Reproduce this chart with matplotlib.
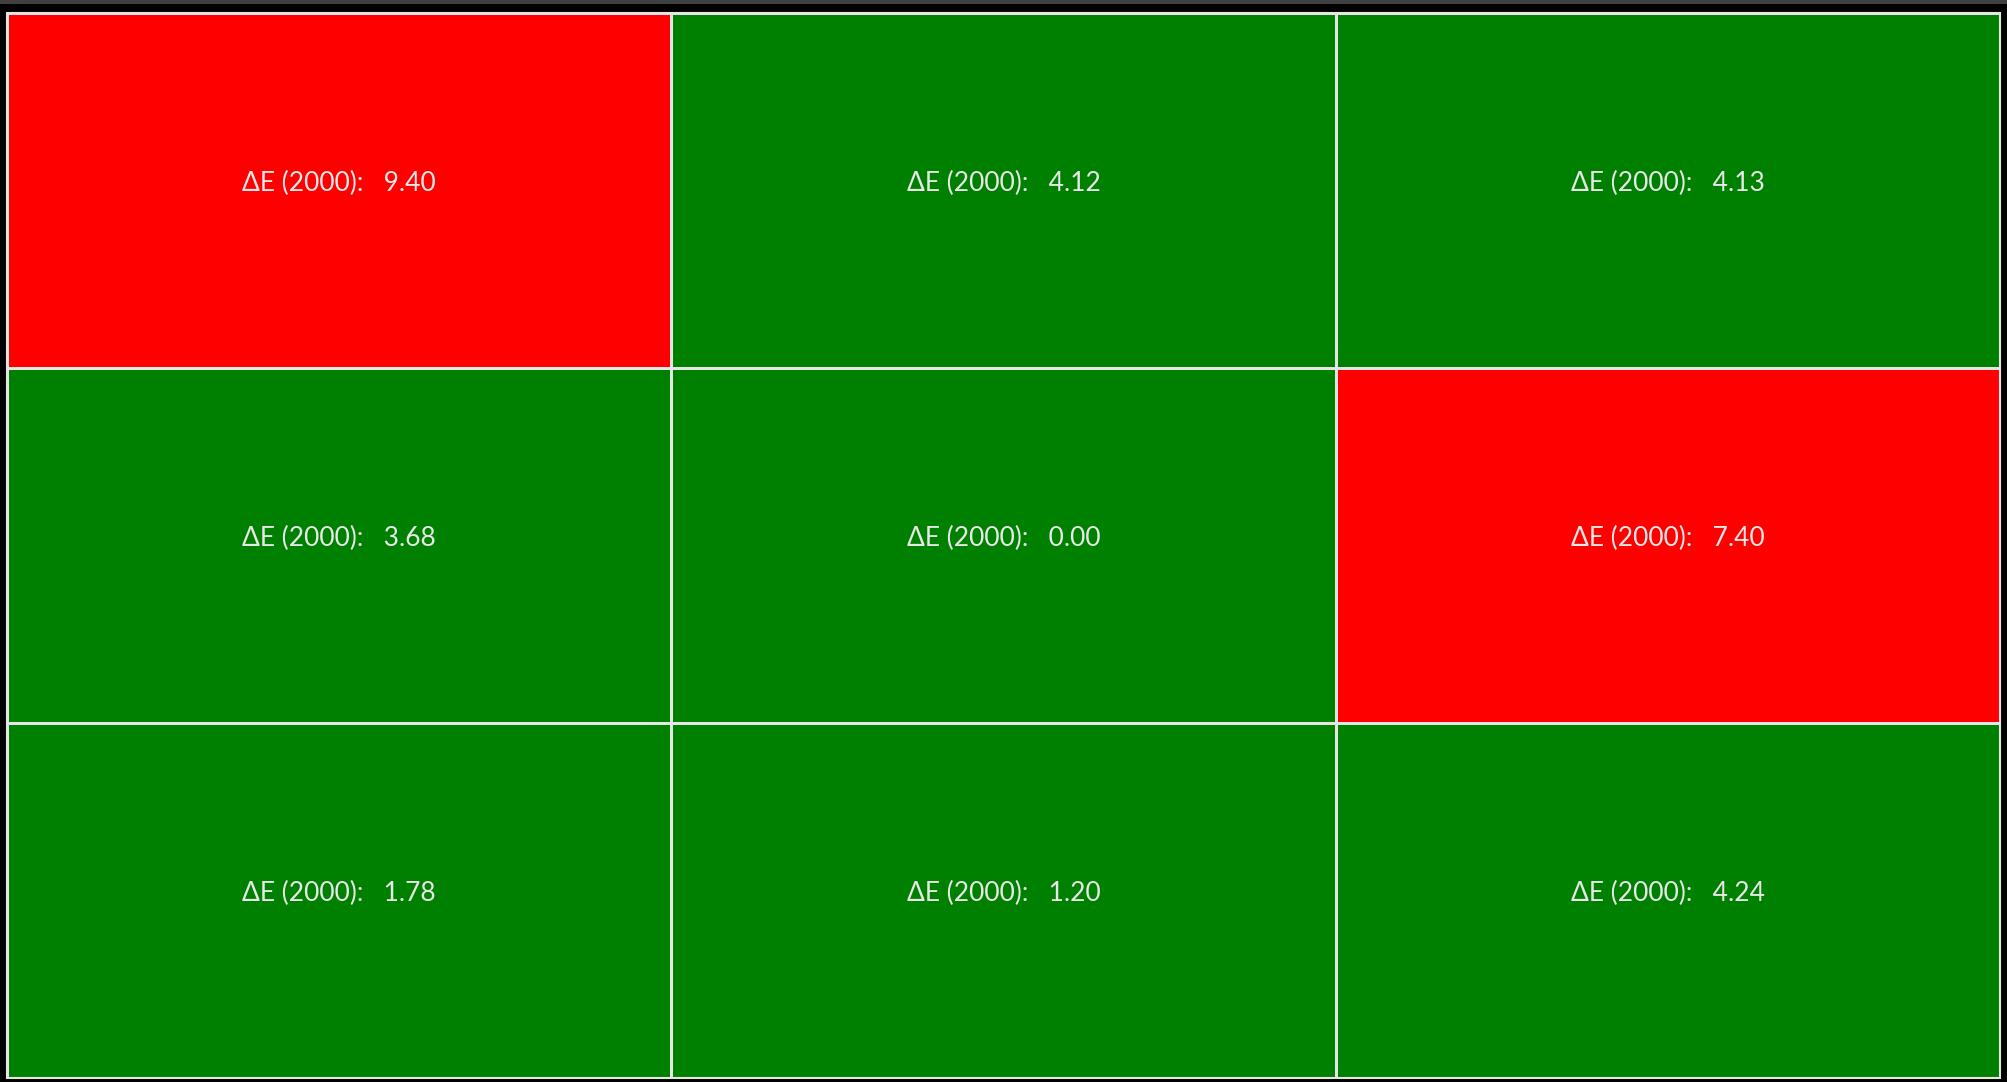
import numpy as np
import matplotlib
matplotlib.use("Agg")
import matplotlib.pyplot as plt
from matplotlib.colors import ListedColormap
from matplotlib.patches import Rectangle

#Delta E (2000) values, row by row
delta_e = np.array([[9.40, 4.12, 4.13],
                    [3.68, 0.00, 7.40],
                    [1.78, 1.20, 4.24]])
threshold = 5.0
label = "ΔE (2000):   {:.2f}"

plt.rcParams['font.family'] = ['Lato', 'DejaVu Sans']

W, H = 2008, 1082
fig = plt.figure(figsize=(W/100, H/100), dpi=100, facecolor='black')

#thin dark strip along the top edge
fig.patches.append(Rectangle((0, 1 - 4/H), 1, 4/H, transform=fig.transFigure,
                             facecolor='#404040', edgecolor='none'))

ax = fig.add_axes([7/W, 1 - 1078/H, 1993/W, 1065/H])
flags = (delta_e > threshold).astype(int)
cmap = ListedColormap(['#008000', '#ff0000'])
ax.pcolormesh(flags, cmap=cmap, vmin=0, vmax=1, edgecolors='#e6e6e6', linewidth=1.0)
ax.set_xlim(0, 3)
ax.set_ylim(3, 0)
ax.set_axis_off()

for r in range(3):
    for c in range(3):
        ax.text(c + 0.5, r + 0.48, label.format(delta_e[r, c]), ha='center', va='center',
                color='#e8e8e8', fontsize=19)

# outer white border
ax.add_patch(Rectangle((0, 0), 3, 3, fill=False, edgecolor='#e6e6e6', linewidth=1.5, clip_on=False))

fig.savefig("out.png", dpi=100, facecolor='black')
